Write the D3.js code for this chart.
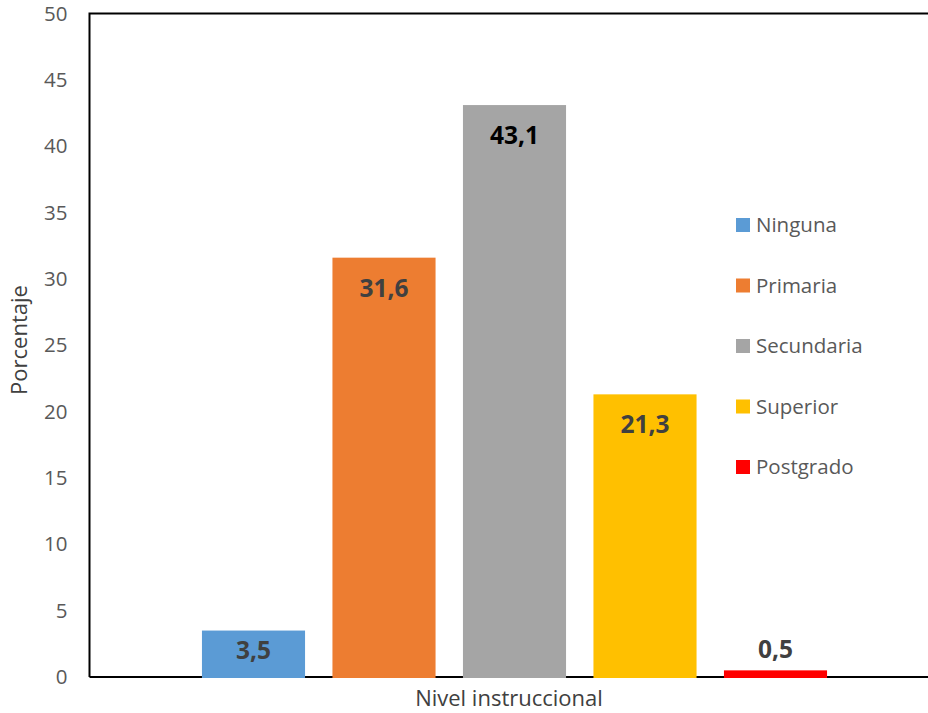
<!DOCTYPE html>
<html>
<head>
<meta charset="utf-8">
<script src="https://cdn.jsdelivr.net/npm/d3@7"></script>
<style>
  html, body { margin: 0; padding: 0; background: #fff; }
  svg { display: block; font-family: "Open Sans", "Noto Sans", sans-serif; }
</style>
</head>
<body>
<svg id="chart" width="928" height="713"></svg>
<script>
// Nivel instruccional (%)
const categories = ["Ninguna", "Primaria", "Secundaria", "Superior", "Postgrado"];
const values = [3.5, 31.6, 43.1, 21.3, 0.5];
const labels = ["3,5", "31,6", "43,1", "21,3", "0,5"];
const colors = ["#5B9BD5", "#ED7D31", "#A5A5A5", "#FFC000", "#FF0000"];
const yTicks = [0, 5, 10, 15, 20, 25, 30, 35, 40, 45, 50];

const svg = d3.select("#chart");
const plot = { left: 89.5, right: 928, top: 13.5, bottom: 677 };

const y = d3.scaleLinear().domain([0, 50]).range([plot.bottom, plot.top]);
const x = d3.scaleBand()
  .domain(categories)
  .range([188.25, 840.75])
  .paddingInner(0.21)
  .paddingOuter(0.105);

// plot frame: left, top and baseline
svg.append("path")
  .attr("d", `M${plot.left},${plot.bottom}V${plot.top}H${plot.right}`)
  .attr("fill", "none").attr("stroke", "#000").attr("stroke-width", 2);
svg.append("line")
  .attr("x1", plot.left).attr("x2", plot.right)
  .attr("y1", plot.bottom).attr("y2", plot.bottom)
  .attr("stroke", "#000").attr("stroke-width", 2);

// y axis labels
const yAxis = d3.axisLeft(y).tickValues(yTicks).tickSize(0).tickPadding(22);
const gy = svg.append("g").attr("transform", `translate(${plot.left},0)`).call(yAxis);
gy.select(".domain").remove();
gy.selectAll("text")
  .attr("fill", "#595959").attr("font-size", 20.5)
  .attr("font-family", "Open Sans, Noto Sans, sans-serif");

// bars
svg.append("g").selectAll("rect")
  .data(categories)
  .join("rect")
  .attr("x", d => x(d))
  .attr("width", x.bandwidth())
  .attr("y", (d, i) => y(values[i]))
  .attr("height", (d, i) => y(0) - y(values[i]) + 1)
  .attr("fill", (d, i) => colors[i]);

// value labels
svg.append("g").selectAll("text")
  .data(categories)
  .join("text")
  .attr("x", d => x(d) + x.bandwidth() / 2)
  .attr("y", (d, i) => {
    const top = y(values[i]);
    const h = y(0) - top;
    if (h < 20) return top - 12;            // outside end
    if (h < 60) return (top + y(0)) / 2 + 5; // centred in short bar
    return top + 39;                        // inside end
  })
  .attr("text-anchor", "middle")
  .attr("font-size", 24.5)
  .attr("font-weight", "bold")
  .attr("fill", (d, i) => i === 2 ? "#000" : "#404040")
  .text((d, i) => labels[i]);

// legend
const legend = svg.append("g").selectAll("g")
  .data(categories)
  .join("g")
  .attr("transform", (d, i) => `translate(736,${218 + i * 60.5})`);
legend.append("rect").attr("width", 14).attr("height", 14).attr("fill", (d, i) => colors[i]);
legend.append("text")
  .attr("x", 20).attr("y", 14)
  .attr("font-size", 20.5).attr("fill", "#595959")
  .text(d => d);

// axis titles
svg.append("text")
  .attr("transform", "translate(27,340) rotate(-90)")
  .attr("text-anchor", "middle")
  .attr("font-size", 22).attr("fill", "#404040")
  .text("Porcentaje");
svg.append("text")
  .attr("x", 509).attr("y", 706)
  .attr("text-anchor", "middle")
  .attr("font-size", 22).attr("fill", "#404040")
  .text("Nivel instruccional");
</script>
</body>
</html>
